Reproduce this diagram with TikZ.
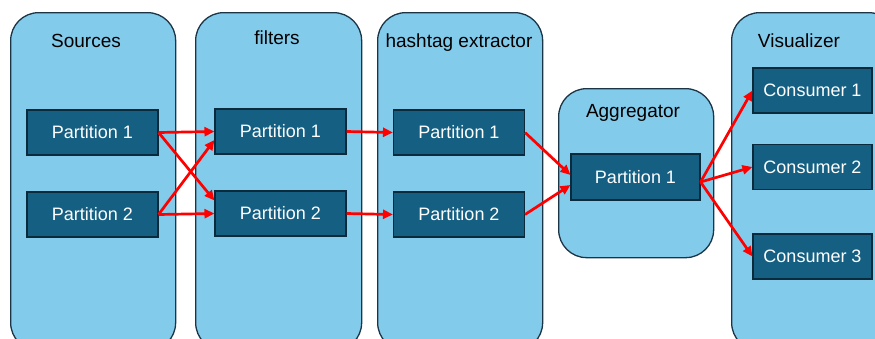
\documentclass[tikz,border=0pt]{standalone}
\usepackage{fontspec}
\setmainfont{Liberation Sans}
\usetikzlibrary{arrows.meta}
\definecolor{stagefill}{HTML}{83CBEB}
\definecolor{stageline}{HTML}{1B3547}
\definecolor{partfill}{HTML}{156082}
\definecolor{partline}{HTML}{0B2A3C}
\definecolor{flowred}{HTML}{FF0000}
\begin{document}
\begin{tikzpicture}[x=1pt,y=-1pt,
  stage/.style={draw=stageline, fill=stagefill, line width=1.3pt, rounded corners=28pt, anchor=north west, inner sep=0pt},
  part/.style={draw=partline, fill=partfill, line width=1.1pt, text=white, font=\fontsize{18}{21}\selectfont, minimum width=131pt, minimum height=45pt, inner sep=0pt},
  title/.style={anchor=base, font=\fontsize{19}{22}\selectfont},
  flow/.style={draw=flowred, line width=2.7pt, -{Triangle[length=10pt,width=9pt]}}]
\useasboundingbox (0,0) rectangle (875,338);
\clip (0,0) rectangle (875,338);
% stages
\node[stage, minimum width=165pt, minimum height=338pt] (src) at (10,12) {};
\node[stage, minimum width=166pt, minimum height=338pt] (flt) at (195,12) {};
\node[stage, minimum width=165pt, minimum height=338pt] (hex) at (377,12) {};
\node[stage, minimum width=155pt, minimum height=169pt] (agg) at (558,88) {};
\node[stage, minimum width=165pt, minimum height=338pt] (vis) at (731,12) {};
\node[title] (srct) at (86,47) {Sources};
\node[title] (fltt) at (277,44) {filters};
\node[title] (hext) at (459,47.5) {hashtag extractor};
\node[title] (aggt) at (633,117) {Aggregator};
\node[title] (vist) at (799,47) {Visualizer};
% partitions
\node[part] (sp1) at (92.5,132.5) {Partition 1};
\node[part] (sp2) at (92.5,214.5) {Partition 2};
\node[part] (fp1) at (280.5,131.5) {Partition 1};
\node[part] (fp2) at (280.5,213.5) {Partition 2};
\node[part] (hp1) at (459,132.5) {Partition 1};
\node[part] (hp2) at (459,214.5) {Partition 2};
\node[part, minimum width=129pt, minimum height=46pt] (ap1) at (635.5,177) {Partition 1};
\node[part, minimum width=119pt] (c1) at (812.5,90.5) {Consumer 1};
\node[part, minimum width=119pt] (c2) at (812.5,167) {Consumer 2};
\node[part, minimum width=119pt] (c3) at (812.5,256.5) {Consumer 3};
% flows
\draw[flow] (sp1.east) -- (fp1.west);
\draw[flow] (sp1.east) -- ([yshift=13pt]fp2.west);
\draw[flow] (sp2.east) -- ([yshift=-8.5pt]fp1.west);
\draw[flow] (sp2.east) -- (fp2.west);
\draw[flow] (fp1.east) -- (hp1.west);
\draw[flow] (fp2.east) -- (hp2.west);
\draw[flow] (hp1.east) -- ([yshift=2pt]ap1.west);
\draw[flow] (hp2.east) -- ([yshift=-8pt]ap1.west);
\draw[flow] ([yshift=-5pt]ap1.east) -- (c1.west);
\draw[flow] ([yshift=-5pt]ap1.east) -- (c2.west);
\draw[flow] ([yshift=-5pt]ap1.east) -- (c3.west);
\end{tikzpicture}
\end{document}
